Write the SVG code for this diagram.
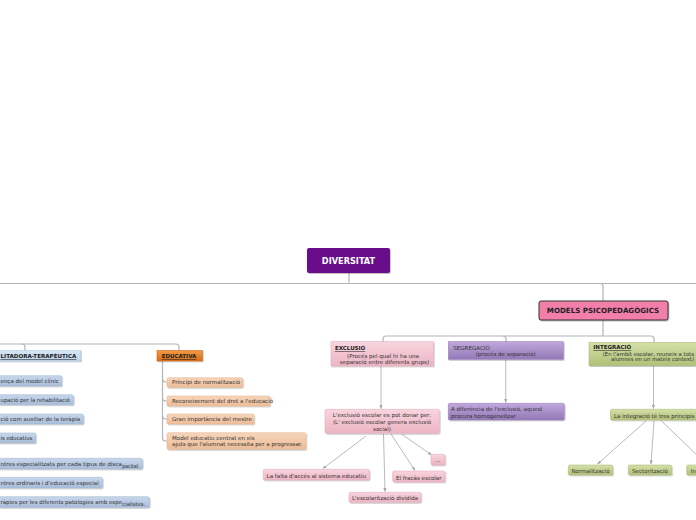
<svg xmlns="http://www.w3.org/2000/svg" width="696" height="520" viewBox="0 0 696 520">
<defs>
<linearGradient id="gBlue" x1="0" y1="0" x2="0" y2="1"><stop offset="0" stop-color="#c8d8ec"/><stop offset="1" stop-color="#a8bcd8"/></linearGradient>
<linearGradient id="gBlueL" x1="0" y1="0" x2="0" y2="1"><stop offset="0" stop-color="#d6e6f6"/><stop offset="1" stop-color="#bcd2ea"/></linearGradient>
<linearGradient id="gPeach" x1="0" y1="0" x2="0" y2="1"><stop offset="0" stop-color="#f6d6bc"/><stop offset="1" stop-color="#eebc98"/></linearGradient>
<linearGradient id="gOrange" x1="0" y1="0" x2="0" y2="1"><stop offset="0" stop-color="#f29a48"/><stop offset="1" stop-color="#d86c14"/></linearGradient>
<linearGradient id="gPink" x1="0" y1="0" x2="0" y2="1"><stop offset="0" stop-color="#f8d4de"/><stop offset="1" stop-color="#ecb4c4"/></linearGradient>
<linearGradient id="gPurple" x1="0" y1="0" x2="0" y2="1"><stop offset="0" stop-color="#c0a8dc"/><stop offset="1" stop-color="#9278b6"/></linearGradient>
<linearGradient id="gGreen" x1="0" y1="0" x2="0" y2="1"><stop offset="0" stop-color="#d6e0a8"/><stop offset="1" stop-color="#b0c078"/></linearGradient>
<filter id="sh" x="-10%" y="-30%" width="130%" height="180%"><feDropShadow dx="0.8" dy="1" stdDeviation="0.7" flood-color="#000" flood-opacity="0.25"/></filter>
<marker id="ar" viewBox="0 0 10 10" refX="9" refY="5" markerWidth="5" markerHeight="5" orient="auto"><path d="M0,1 L10,5 L0,9 z" fill="#a8a8a8"/></marker>
</defs>
<style>
text{font-family:"DejaVu Sans",Verdana,"Liberation Sans",sans-serif;font-size:5.55px;fill:#333}
.b{font-weight:bold;font-size:5.5px;text-decoration:underline;fill:#222}
.ln{fill:none;stroke:#b4b4b4;stroke-width:1.2}
.ar{fill:none;stroke:#a8a8a8;stroke-width:0.8;marker-end:url(#ar)}
.blue{fill:url(#gBlue);stroke:#a4b8d2;stroke-width:0.6}
.peach{fill:url(#gPeach);stroke:#e6b894;stroke-width:0.6}
.pink{fill:url(#gPink);stroke:#e4b0c0;stroke-width:0.6}
.purple{fill:url(#gPurple);stroke:#9a84bc;stroke-width:0.6}
.green{fill:url(#gGreen);stroke:#aebe7c;stroke-width:0.6}
g rect{filter:url(#sh)}
</style>
<rect width="696" height="520" fill="#fff"/>
<g id="connectors">
<path class="ln" d="M0,283.5 H696"/>
<path class="ln" d="M349,273 V283"/>
<path class="ln" d="M600,283.5 Q603,283.5 603,286.5 V301"/>
<path class="ln" d="M603,320 V336"/>
<path class="ln" d="M383,342 V339 Q383,336 386,336 H651 Q654,336 654,339 V342"/>
<path class="ln" d="M503,336 Q506,336 506,339 V342"/>
<path class="ln" d="M0,344 H176 Q179,344 179,347 V351"/>
<path class="ln" d="M22,344 Q25,344 25,347 V351"/>
<path class="ln" d="M162.5,361 V438 Q162.5,441 165.5,441 H167"/>
<path class="ln" d="M162.5,379 Q162.5,382 165.5,382 H167"/>
<path class="ln" d="M162.5,398 Q162.5,401 165.5,401 H167"/>
<path class="ln" d="M162.5,416 Q162.5,419 165.5,419 H167"/>
<path class="ar" d="M381,366 V408.5"/>
<path class="ar" d="M366,436 L323,468.5"/>
<path class="ar" d="M383.5,434 L385,491.5"/>
<path class="ar" d="M391,434 L415,470.5"/>
<path class="ar" d="M401.5,434 L431.5,455"/>
<path class="ar" d="M505.7,359.5 V402.5"/>
<path class="ar" d="M653.5,366 V408.5"/>
<path class="ar" d="M646,421 L597.5,464"/>
<path class="ar" d="M654,421 L651,464"/>
<path class="ar" d="M661.5,421 L700,458"/>
</g>
<g id="diversitat">
<rect x="307" y="248" width="83" height="25" rx="2" fill="#6b0a8a"/>
<text x="348.5" y="264" text-anchor="middle" style="font-size:8.2px;font-weight:bold;fill:#fff">DIVERSITAT</text>
</g>
<g id="models">
<rect x="539" y="301" width="129" height="19" rx="2" fill="#f27eaa" stroke="#333" stroke-width="1"/>
<text x="603" y="313" text-anchor="middle" style="font-size:7.1px;font-weight:bold;fill:#222">MODELS PSICOPEDAGÒGICS</text>
</g>
<g id="rehabilitadora">
<rect x="-5" y="350.5" width="85.7" height="10.5" fill="url(#gBlueL)" stroke="#b4cbe4" stroke-width="0.6"/>
<text class="b" x="0.5" y="358" textLength="75.8" lengthAdjust="spacingAndGlyphs">LITADORA-TERAPÈUTICA</text>
</g>
<g id="r1"><rect class="blue" x="-5" y="375.7" width="66.7" height="10.3" rx="1.5"/><text x="0.5" y="382.8" textLength="58.2" lengthAdjust="spacingAndGlyphs">ença del model clínic</text></g>
<g id="r2"><rect class="blue" x="-5" y="394.7" width="78.3" height="10" rx="1.5"/><text x="0.5" y="401.6" textLength="69.2" lengthAdjust="spacingAndGlyphs">upació per la rehabilitació</text></g>
<g id="r3"><rect class="blue" x="-5" y="414" width="88.3" height="10" rx="1.5"/><text x="0.5" y="420.9" textLength="79.5" lengthAdjust="spacingAndGlyphs">ció com auxiliar de la teràpia</text></g>
<g id="r4"><rect class="blue" x="-5" y="433" width="40.7" height="10" rx="1.5"/><text x="0.5" y="439.9" textLength="31.8" lengthAdjust="spacingAndGlyphs">is educatius</text></g>
<g id="r5"><rect class="blue" x="-5" y="458.3" width="147.3" height="10.7" rx="1.5"/><text x="0.5" y="465.8" textLength="121.5" lengthAdjust="spacingAndGlyphs">ntres especialitzats per cada tipus de disca</text><text x="122.3" y="467.8" textLength="16" lengthAdjust="spacingAndGlyphs">pacitat</text></g>
<g id="r6"><rect class="blue" x="-5" y="477.3" width="107.3" height="10.7" rx="1.5"/><text x="0.5" y="484.6" textLength="98.2" lengthAdjust="spacingAndGlyphs">ntres ordinaris i d'educació especial</text></g>
<g id="r7"><rect class="blue" x="-5" y="496.7" width="154.3" height="10.6" rx="1.5"/><text x="0.5" y="503.6" textLength="121.5" lengthAdjust="spacingAndGlyphs">ràpies per les diferents patologies amb espe</text><text x="122.3" y="505.6" textLength="23" lengthAdjust="spacingAndGlyphs">cialistes.</text></g>
<g id="educativa">
<rect x="157" y="350.5" width="45.3" height="10.5" fill="url(#gOrange)" stroke="#d06a18" stroke-width="0.6"/>
<text class="b" x="161.7" y="358">EDUCATIVA</text>
</g>
<g id="e1"><rect class="peach" x="167" y="377.7" width="75.7" height="9.6" rx="1.5"/><text x="172" y="384.3">Principi de normalització</text></g>
<g id="e2"><rect class="peach" x="167" y="396" width="103" height="10" rx="1.5"/><text x="172" y="402.8">Reconeixement del dret a l'educació</text></g>
<g id="e3"><rect class="peach" x="167" y="414" width="87" height="10" rx="1.5"/><text x="172" y="420.8">Gran importància del mestre</text></g>
<g id="e4"><rect class="peach" x="167" y="432.7" width="139" height="16.6" rx="1.5"/><text x="172" y="440.4">Model educatiu centrat en els</text><text x="172" y="446.2">ajuts que l'alumnat necessita per a progressar.</text></g>
<g id="exclusio">
<rect class="pink" x="331" y="341.7" width="102.3" height="24.3"/>
<text class="b" x="335" y="350.4">EXCLUSIÓ</text>
<text x="383" y="357.6" text-anchor="middle">(Procés pel qual hi ha una</text>
<text x="384.5" y="364.4" text-anchor="middle">separació entre diferents grups)</text>
</g>
<g id="x0">
<rect class="pink" x="325" y="409.3" width="114.3" height="24" rx="1.5"/>
<text x="382" y="416.6" text-anchor="middle">L'exclusió escolar es pot donar per:</text>
<text x="382" y="424" text-anchor="middle">(L' exclusió escolar genera exclusió</text>
<text x="382" y="430.5" text-anchor="middle">social)</text>
</g>
<g id="x1"><rect class="pink" x="263.3" y="469.3" width="106" height="10.7" rx="1.5"/><text x="316.3" y="477.5" text-anchor="middle">La falta d'accés al sistema educatiu</text></g>
<g id="x2"><rect class="pink" x="349" y="492.3" width="72" height="10" rx="1.5"/><text x="385" y="499.8" text-anchor="middle">L'escolarització dividida</text></g>
<g id="x3"><rect class="pink" x="392.7" y="471" width="52.3" height="11" rx="1.5"/><text x="418.8" y="479.8" text-anchor="middle">El fracàs escolar</text></g>
<g id="x4"><rect class="pink" x="431" y="454.3" width="14" height="10.7" rx="1.5"/><text x="438" y="462" text-anchor="middle">...</text></g>
<g id="segregacio">
<rect class="purple" x="448.3" y="341.7" width="115" height="17.6"/>
<text x="453.3" y="350">SEGREGACIÓ</text>
<text x="475.7" y="355.8">(procés de separació)</text>
</g>
<g id="s1">
<rect class="purple" x="448.3" y="403.3" width="116" height="16.7" rx="1.5"/>
<text x="451" y="411">A diferència de l'exclusió, aquest</text>
<text x="451" y="417.5">procura homogeneïtzar</text>
</g>
<g id="integracio">
<rect class="green" x="589" y="342.3" width="112" height="23.4"/>
<text class="b" x="593.3" y="349.2">INTEGRACIÓ</text>
<text x="602.7" y="356" textLength="91.3" lengthAdjust="spacingAndGlyphs">(En l'àmbit escolar, reuneix a tots</text>
<text x="611" y="361.3" textLength="83" lengthAdjust="spacingAndGlyphs">alumnes en un mateix context)</text>
</g>
<g id="i0"><rect class="green" x="610.5" y="409.3" width="90" height="10.7" rx="1.5"/><text x="614" y="417.8" textLength="80.5" lengthAdjust="spacingAndGlyphs">La integració té tres principis</text></g>
<g id="i1"><rect class="green" x="568.3" y="465" width="44.4" height="10" rx="1.5"/><text x="590.5" y="472.7" text-anchor="middle">Normalització</text></g>
<g id="i2"><rect class="green" x="628.3" y="465" width="43.4" height="10" rx="1.5"/><text x="650" y="472.7" text-anchor="middle">Sectorització</text></g>
<g id="i3"><rect class="green" x="686.7" y="465" width="20" height="10" rx="1.5"/><text x="690.7" y="472.7">In</text></g>
</svg>
